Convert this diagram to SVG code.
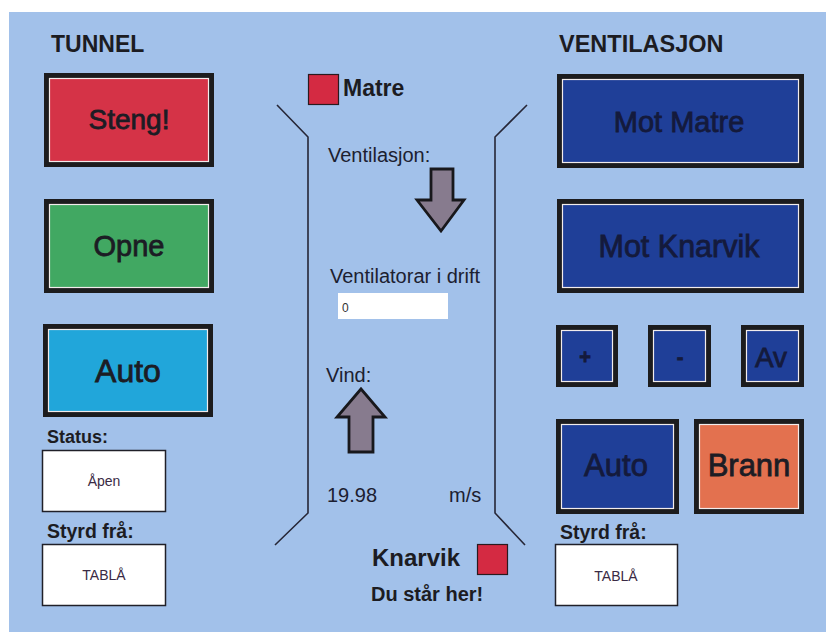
<svg xmlns="http://www.w3.org/2000/svg" width="826" height="632" viewBox="0 0 826 632">
<defs>
<style>
.bg{fill:#a2c1ea}
.btn{stroke:#1c1c1e;stroke-width:5}
.hl{fill:none;stroke:#f2ecec;stroke-width:1.2}
.bt{font-family:"Liberation Sans",Arial,sans-serif;fill:#1c1c24;stroke:#1c1c24;stroke-width:0.8;text-anchor:middle}
.bb{font-family:"Liberation Sans",Arial,sans-serif;fill:#141a3c;stroke:#141a3c;stroke-width:0.8;text-anchor:middle}
.h{font-family:"Liberation Sans",Arial,sans-serif;font-weight:bold;fill:#1c1c22}
.t{font-family:"Liberation Sans",Arial,sans-serif;fill:#1c2030;font-size:20px}
.box{fill:#ffffff;stroke:#202028;stroke-width:1.5}
.sm{font-family:"Liberation Sans",Arial,sans-serif;fill:#3a2a44;font-size:14px;text-anchor:middle}
.sq{fill:#d42a42;stroke:#2a1a1e;stroke-width:1.2}
.arr{fill:#877b8e;stroke:#18181c;stroke-width:2.8;stroke-linejoin:miter}
.tun{fill:none;stroke:#262636;stroke-width:1.6}
</style>
</defs>
<rect width="826" height="632" fill="#ffffff"/>
<rect class="bg" x="9" y="12" width="817" height="620"/>

<g id="heading-tunnel"><text class="h" x="51" y="52" font-size="23">TUNNEL</text></g>
<g id="heading-ventilasjon"><text class="h" x="559" y="52" font-size="23.5">VENTILASJON</text></g>

<g id="btn-steng">
<rect class="btn" x="46.5" y="75.5" width="165" height="89" fill="#d53347"/>
<rect class="hl" x="49.5" y="78.5" width="159" height="83"/>
<text class="bt" x="129" y="129" font-size="28">Steng!</text>
</g>
<g id="btn-opne">
<rect class="btn" x="46.5" y="201.5" width="165" height="89" fill="#41a862"/>
<rect class="hl" x="49.5" y="204.5" width="159" height="83"/>
<text class="bt" x="129" y="256" font-size="29">Opne</text>
</g>
<g id="btn-auto-tunnel">
<rect class="btn" x="45.5" y="326.5" width="165" height="88" fill="#21a6da"/>
<rect class="hl" x="48.5" y="329.5" width="159" height="82"/>
<text class="bt" x="128" y="382" font-size="32">Auto</text>
</g>

<g id="status">
<text class="h" x="47" y="443" font-size="18">Status:</text>
<rect class="box" x="42.5" y="450.5" width="123" height="61"/>
<text class="sm" x="104" y="486">Åpen</text>
</g>
<g id="styrd-tunnel">
<text class="h" x="47" y="538" font-size="19.5">Styrd frå:</text>
<rect class="box" x="42.5" y="544.5" width="123" height="61"/>
<text class="sm" x="104" y="580">TABLÅ</text>
</g>

<g id="matre">
<rect class="sq" x="308.5" y="74.5" width="30" height="30"/>
<text class="h" x="343" y="96" font-size="23">Matre</text>
</g>

<g id="tunnel-walls">
<polyline class="tun" points="277,105 308,137 308,513 275,545"/>
<polyline class="tun" points="527,105 495,137 495,513 525,545"/>
</g>

<g id="ventilasjon">
<text class="t" x="328" y="162" font-size="19.5">Ventilasjon:</text>
<polygon class="arr" points="431,169 453,169 453,200 464,200 441,231 417,200 431,200"/>
</g>
<g id="ventilatorar">
<text class="t" x="330" y="283">Ventilatorar i drift</text>
<rect x="338" y="293" width="110" height="26" fill="#ffffff"/>
<text x="342" y="312" font-family="Liberation Sans,Arial,sans-serif" font-size="12" fill="#333333">0</text>
</g>
<g id="vind">
<text class="t" x="326" y="382">Vind:</text>
<polygon class="arr" points="361,389 385,417 373,417 373,452 349,452 349,417 337,417"/>
<text class="t" x="327" y="502">19.98</text>
<text class="t" x="449" y="502">m/s</text>
</g>

<g id="knarvik">
<text class="h" x="372" y="566" font-size="24">Knarvik</text>
<rect class="sq" x="477.5" y="544.5" width="30" height="30"/>
<text class="h" x="371" y="601" font-size="20">Du står her!</text>
</g>

<g id="btn-mot-matre">
<rect class="btn" x="559.5" y="76.5" width="242" height="89" fill="#1f3f98"/>
<rect class="hl" x="562.5" y="79.5" width="236" height="83"/>
<text class="bb" x="679" y="132" font-size="29">Mot Matre</text>
</g>
<g id="btn-mot-knarvik">
<rect class="btn" x="559.5" y="201.5" width="242" height="89" fill="#1f3f98"/>
<rect class="hl" x="562.5" y="204.5" width="236" height="83"/>
<text class="bb" x="679" y="257" font-size="30.5">Mot Knarvik</text>
</g>
<g id="btn-plus">
<rect class="btn" x="558.5" y="327.5" width="57" height="57" fill="#1f3f98"/>
<rect class="hl" x="561.5" y="330.5" width="51" height="51"/>
<text class="bb" x="585" y="364" font-size="20" font-weight="bold">+</text>
</g>
<g id="btn-minus">
<rect class="btn" x="650.5" y="327.5" width="58" height="57" fill="#1f3f98"/>
<rect class="hl" x="653.5" y="330.5" width="52" height="51"/>
<text class="bb" x="680" y="364" font-size="20" font-weight="bold">-</text>
</g>
<g id="btn-av">
<rect class="btn" x="743.5" y="327.5" width="58" height="57" fill="#1f3f98"/>
<rect class="hl" x="746.5" y="330.5" width="52" height="51"/>
<text class="bb" x="771" y="367" font-size="28">Av</text>
</g>
<g id="btn-auto-vent">
<rect class="btn" x="558.5" y="421.5" width="118" height="90" fill="#1f3f98"/>
<rect class="hl" x="561.5" y="424.5" width="112" height="84"/>
<text class="bb" x="616" y="476" font-size="31">Auto</text>
</g>
<g id="btn-brann">
<rect class="btn" x="696.5" y="421.5" width="105" height="90" fill="#e3714f"/>
<rect class="hl" x="699.5" y="424.5" width="99" height="84"/>
<text class="bt" x="749" y="476" font-size="31" stroke-width="1.2">Brann</text>
</g>

<g id="styrd-vent">
<text class="h" x="560" y="539" font-size="19.5">Styrd frå:</text>
<rect class="box" x="555.5" y="544.5" width="122" height="61"/>
<text class="sm" x="616" y="581">TABLÅ</text>
</g>
</svg>
